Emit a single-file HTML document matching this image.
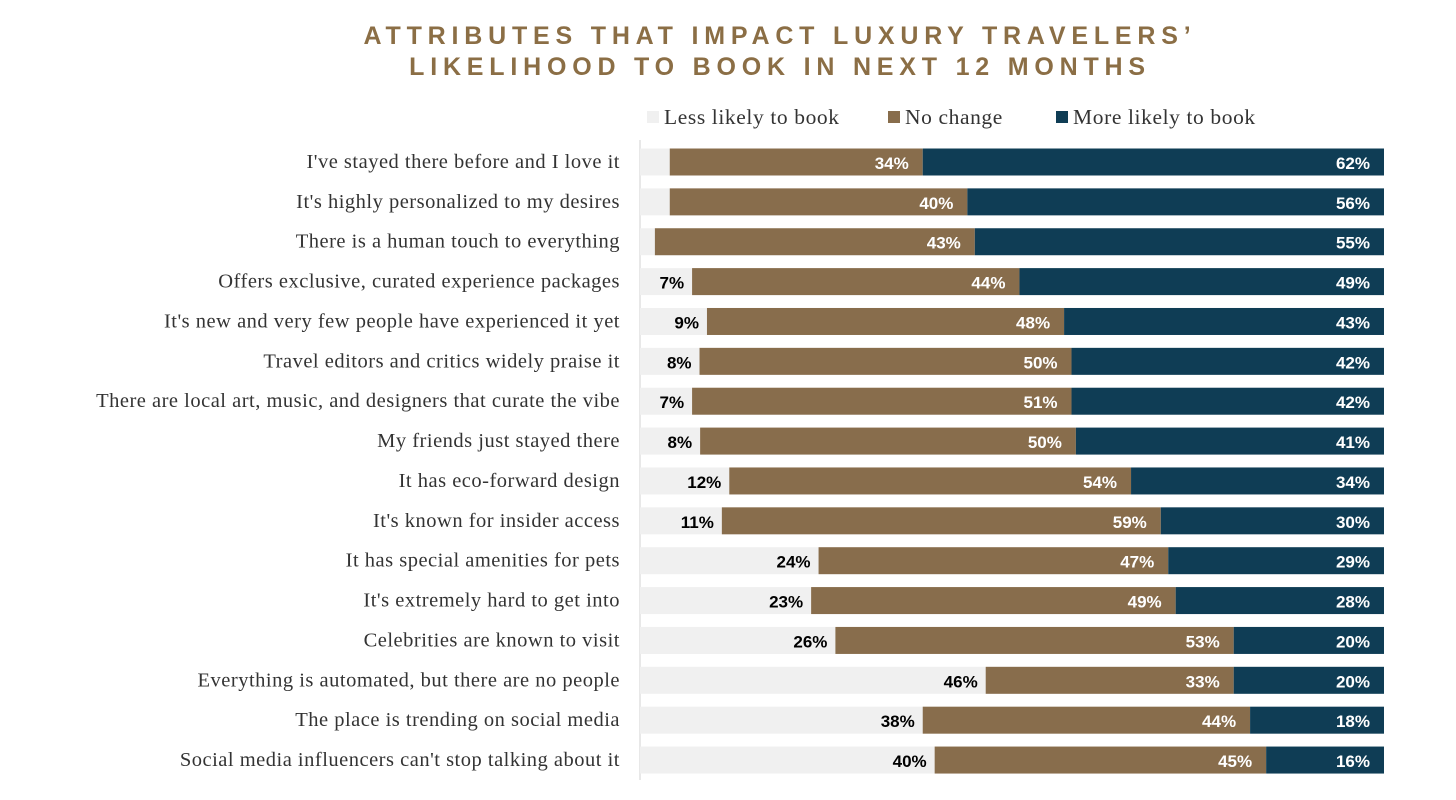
<!DOCTYPE html>
<html><head><meta charset="utf-8"><style>
body{margin:0;background:#fff;width:1456px;height:800px;overflow:hidden}
svg{display:block}
</style></head><body>
<svg id="chart" width="1456" height="800">
<text x="780" y="44" text-anchor="middle" font-family="Liberation Sans, sans-serif" font-size="25" font-weight="bold" letter-spacing="5.8" fill="#8b6e45">ATTRIBUTES THAT IMPACT LUXURY TRAVELERS’</text>
<text x="780" y="75" text-anchor="middle" font-family="Liberation Sans, sans-serif" font-size="25" font-weight="bold" letter-spacing="5.8" fill="#8b6e45">LIKELIHOOD TO BOOK IN NEXT 12 MONTHS</text>
<g>
<rect x="647" y="111" width="12" height="12" fill="#f0f0f0"/>
<text x="664" y="124" font-family="Liberation Serif, serif" font-size="21.5" letter-spacing="0.6" fill="#333">Less likely to book</text>
<rect x="888" y="111" width="12" height="12" fill="#886d4c"/>
<text x="905" y="124" font-family="Liberation Serif, serif" font-size="21.5" letter-spacing="0.6" fill="#333">No change</text>
<rect x="1056" y="111" width="12" height="12" fill="#0f3d55"/>
<text x="1073" y="124" font-family="Liberation Serif, serif" font-size="21.5" letter-spacing="0.6" fill="#333">More likely to book</text>
</g>
<line x1="640" y1="140" x2="640" y2="780" stroke="#d0d0d0"/>
<g id="bars"></g>
</svg>
<script>
const categories=["I've stayed there before and I love it","It's highly personalized to my desires","There is a human touch to everything","Offers exclusive, curated experience packages","It's new and very few people have experienced it yet","Travel editors and critics widely praise it","There are local art, music, and designers that curate the vibe","My friends just stayed there","It has eco-forward design","It's known for insider access","It has special amenities for pets","It's extremely hard to get into","Celebrities are known to visit","Everything is automated, but there are no people","The place is trending on social media","Social media influencers can't stop talking about it"];
const lessLikely=[4,4,2,7,9,8,7,8,12,11,24,23,26,46,38,40];
const noChange=[34,40,43,44,48,50,51,50,54,59,47,49,53,33,44,45];
const moreLikely=[62,56,55,49,43,42,42,41,34,30,29,28,20,20,18,16];
const NS="http://www.w3.org/2000/svg";
const g=document.getElementById('bars');
const x0=640,x1=1384,yTop=162,step=39.87,bh=27;
function xs(v,total){return (x1-x0)*v/total;}
function yc(i){return yTop+i*step;}
function mk(tag,attrs){const e=document.createElementNS(NS,tag);for(const k in attrs)e.setAttribute(k,attrs[k]);return e;}
categories.forEach((c,i)=>{
  const y=yc(i);
  const lab=mk('text',{x:620,y:y+6,'text-anchor':'end','font-family':'Liberation Serif, serif','font-size':'20.5','letter-spacing':'0.5',fill:'#333'});
  lab.textContent=c;
  
  
  g.appendChild(lab);
  const total=lessLikely[i]+noChange[i]+moreLikely[i];
  const vals=[lessLikely[i],noChange[i],moreLikely[i]];
  const cols=['#f0f0f0','#886d4c','#0f3d55'];
  const tcol=['#000','#fff','#fff'];
  const names=['bar-less','bar-nochange','bar-more'];
  let x=x0;
  vals.forEach((v,j)=>{
    const w=xs(v,total);
    const r=mk('rect',{x:x,y:y-bh/2,width:w,height:bh,fill:cols[j]});
    
    
    g.appendChild(r);
    if(!(j===0&&v<7)){
      const t=mk('text',{x:x+w-(j===0?8:14),y:y+7,'text-anchor':'end','font-family':'Liberation Sans, sans-serif','font-size':'17','font-weight':'bold',fill:tcol[j]});
      t.textContent=v+'%';
      
      
      g.appendChild(t);
    }
    x+=w;
  });
});
</script>
</body></html>
